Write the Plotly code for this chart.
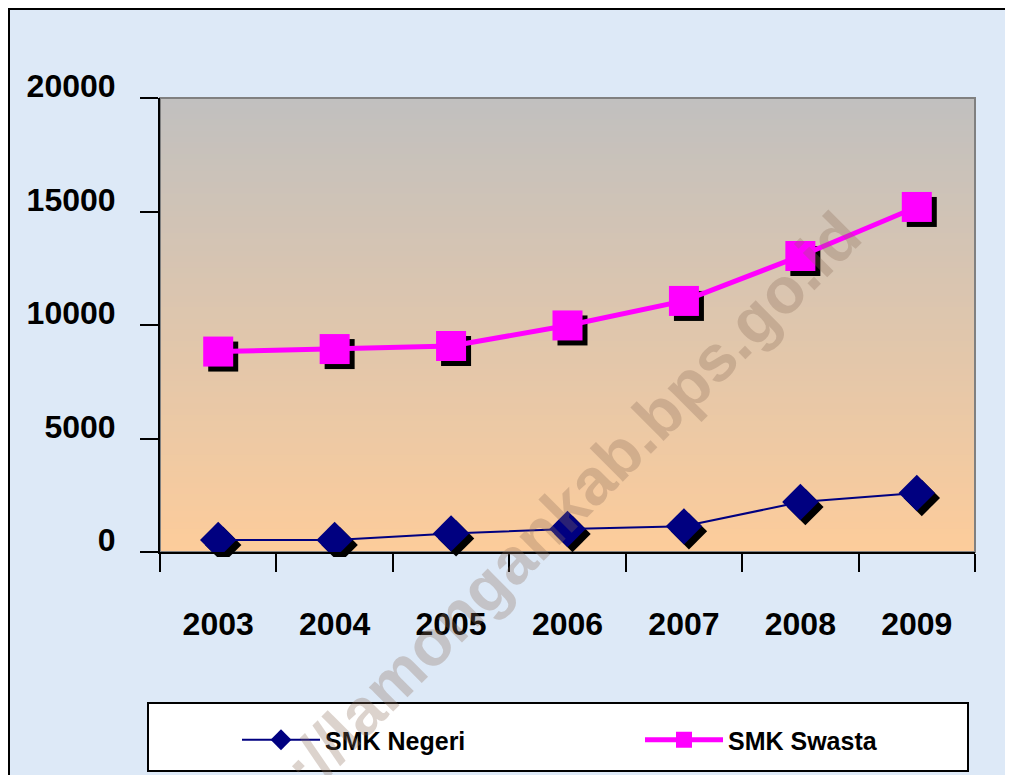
import plotly.graph_objects as go

years = ["2003", "2004", "2005", "2006", "2007", "2008", "2009"]
smk_negeri = [530, 530, 820, 1010, 1130, 2200, 2600]
smk_swasta = [8830, 8940, 9075, 9980, 11060, 13040, 15200]
y_ticks = [0, 5000, 10000, 15000, 20000]

# page is rendered with an 8px body margin; all px below are figure coords
W, H = 997, 767
L, T = 152, 90
PW, PH = 820, 459          # paper area incl. shadow offset
SH = 5                     # shadow offset px
dx, dy = SH / PW, SH / PH
R = W - L - PW
B = H - T - PH


def px(x):
    return (x - L) / PW


def py(y):
    return 1 - (y - T) / PH


FONT = "Arial, Liberation Sans, sans-serif"

fig = go.Figure()

# ghost trace keeps categories on the visible axes
fig.add_trace(go.Scatter(x=years, y=smk_negeri, mode="markers",
                         marker=dict(opacity=0), showlegend=False,
                         hoverinfo="skip", xaxis="x", yaxis="y"))
# shadows
fig.add_trace(go.Scatter(x=years, y=smk_negeri, mode="markers",
                         marker=dict(symbol="diamond", size=28, color="black"),
                         showlegend=False, hoverinfo="skip", xaxis="x2", yaxis="y2"))
fig.add_trace(go.Scatter(x=years, y=smk_swasta, mode="markers",
                         marker=dict(symbol="square", size=30, color="black"),
                         showlegend=False, hoverinfo="skip", xaxis="x2", yaxis="y2"))
# main series
fig.add_trace(go.Scatter(x=years, y=smk_negeri, mode="lines+markers", name="SMK Negeri",
                         line=dict(color="#000080", width=2),
                         marker=dict(symbol="diamond", size=28, color="#000080"),
                         xaxis="x3", yaxis="y3", legend="legend"))
fig.add_trace(go.Scatter(x=years, y=smk_swasta, mode="lines+markers", name="SMK Swasta",
                         line=dict(color="#FF00FF", width=5),
                         marker=dict(symbol="square", size=30, color="#FF00FF"),
                         xaxis="x3", yaxis="y3", legend="legend2"))

shapes = []
# outer frame with light blue fill
shapes.append(dict(type="rect", xref="paper", yref="paper",
                   x0=px(0.5), x1=px(W + 20), y0=py(H + 20), y1=py(0.5),
                   fillcolor="#DDE9F7", line=dict(color="black", width=3), layer="below"))
# gradient plot background
N = 80
top = (193, 192, 191)
bot = (252, 204, 155)
for i in range(N):
    f = i / (N - 1)
    c = tuple(round(top[k] + (bot[k] - top[k]) * f) for k in range(3))
    shapes.append(dict(type="rect", xref="x domain", yref="y domain",
                       x0=0, x1=1, y0=1 - (i + 1) / N, y1=1 - i / N + 0.002,
                       fillcolor="rgb(%d,%d,%d)" % c, line=dict(width=0), layer="below"))
shapes.append(dict(type="rect", xref="x domain", yref="y domain", x0=0, x1=1, y0=0, y1=1,
                   line=dict(color="#808080", width=2), layer="below"))
# legend box
shapes.append(dict(type="rect", xref="paper", yref="paper",
                   x0=px(140), x1=px(960), y0=py(763), y1=py(695),
                   fillcolor="white", line=dict(color="black", width=2), layer="above"))

tickfont = dict(family=FONT, size=32, color="black", weight="bold")
legfont = dict(family=FONT, size=25, color="black", weight="bold")

hidden = dict(visible=False, showgrid=False, zeroline=False, fixedrange=True)

fig.update_layout(
    width=W, height=H,
    margin=dict(l=L, r=R, t=T, b=B, pad=0),
    paper_bgcolor="white",
    plot_bgcolor="rgba(0,0,0,0)",
    shapes=shapes,
    showlegend=True,
    xaxis=dict(domain=[0, 1 - dx], type="category", categoryarray=years, categoryorder="array",
               range=[-0.5, 6.5], showline=True, linecolor="black", linewidth=2,
               ticks="outside", ticklen=18, tickwidth=2, tickcolor="black",
               tickson="boundaries", showgrid=False, zeroline=False,
               tickfont=tickfont, ticklabelstandoff=43, anchor="y"),
    yaxis=dict(domain=[dy, 1], range=[0, 20000], tickvals=y_ticks,
               ticktext=[str(v) for v in y_ticks],
               showline=True, linecolor="black", linewidth=2,
               ticks="outside", ticklen=18, tickwidth=2, tickcolor="black",
               showgrid=False, zeroline=False, tickfont=tickfont,
               ticklabelstandoff=18, ticklabelshift=-12, anchor="x"),
    xaxis2=dict(domain=[dx, 1], type="category", categoryarray=years, categoryorder="array",
                range=[-0.5, 6.5], anchor="y2", **hidden),
    yaxis2=dict(domain=[0, 1 - dy], range=[0, 20000], anchor="x2", **hidden),
    xaxis3=dict(domain=[0, 1 - dx], type="category", categoryarray=years, categoryorder="array",
                range=[-0.5, 6.5], anchor="y3", **hidden),
    yaxis3=dict(domain=[dy, 1], range=[0, 20000], anchor="x3", **hidden),
    legend=dict(orientation="h", x=px(229), y=py(732),
                xanchor="left", yanchor="middle", bgcolor="rgba(0,0,0,0)",
                borderwidth=0, font=legfont, itemwidth=78, valign="middle"),
    legend2=dict(orientation="h", x=px(632), y=py(732),
                 xanchor="left", yanchor="middle", bgcolor="rgba(0,0,0,0)",
                 borderwidth=0, font=legfont, itemwidth=78, valign="middle"),
    annotations=[dict(text="http://lamongankab.bps.go.id", xref="paper", yref="paper",
                      x=px(520), y=py(536), xanchor="center", yanchor="middle",
                      textangle=-45, showarrow=False,
                      font=dict(family=FONT, size=65, color="rgba(140,110,90,0.30)", weight="bold"))],
)

fig.write_html("out.html")
